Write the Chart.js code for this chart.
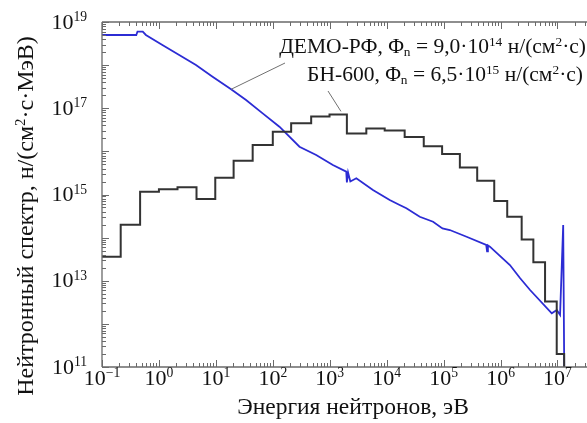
<!DOCTYPE html>
<html lang="ru"><head><meta charset="utf-8">
<script src="https://cdn.jsdelivr.net/npm/chart.js@4/dist/chart.umd.min.js"></script>
<style>
html,body{margin:0;padding:0;background:#fff;overflow:hidden}
canvas{display:block}
#wrap{width:587px;height:423px;position:relative}
#ov{position:absolute;left:0;top:0;width:587px;height:423px;pointer-events:none;color:#111}
#ov .t{position:absolute;white-space:nowrap;line-height:1;font-family:'Liberation Serif'}
#ov .sup{font-size:0.62em;line-height:0;position:relative;top:-0.55em}
#ov .sub{font-size:0.62em;line-height:0;position:relative;top:0.2em}
</style>
</head><body>
<div id="wrap"><canvas id="c" width="587" height="423"></canvas><div id="ov"></div></div>
<script>
// ---- data ----
const xTickExponents = [-1, 0, 1, 2, 3, 4, 5, 6, 7];
const yTickExponents = [11, 13, 15, 17, 19];
const xTitle = 'Энергия нейтронов, эВ';
const yTitle = 'Нейтронный спектр, н/(см<span class="sup">2</span>·с·МэВ)';
const demoName = 'ДЕМО-РФ';
const demoFluxText = ['9,0·10', '14'];
const bnName = 'БН-600';
const bnFluxText = ['6,5·10', '15'];

// ДЕМО-РФ spectrum (energy eV, flux н/(см²·с·МэВ))
const demoEnergy = [0.1, 0.40, 0.42, 0.52, 0.59, 1.15, 2.27, 4.47, 8.75, 18.5, 33.9, 66.4, 130.6, 294, 578, 1135, 1950, 2000, 2100, 2300, 2930, 5740, 11300, 16900, 22200, 38100, 65300, 95500, 128500, 253000, 560000, 580000, 600000, 650000, 1.46e6, 2.21e6, 3.30e6, 7.94e6, 9.73e6, 1.11e7, 1.26e7, 1.33e7];
const demoFlux   = [5.0e18, 5.0e18, 6.0e18, 6.0e18, 5.0e18, 2.93e18, 1.72e18, 1.01e18, 5.4e17, 2.75e17, 1.55e17, 7.6e16, 3.73e16, 1.28e16, 8.24e15, 4.83e15, 3.38e15, 1.9e15, 3.2e15, 2.0e15, 2.38e15, 1.27e15, 7.45e14, 5.71e14, 4.79e14, 3.05e14, 2.34e14, 1.64e14, 1.50e14, 1.05e14, 6.8e13, 4.8e13, 6.6e13, 6.17e13, 2.32e13, 1.14e13, 6.1e12, 1.76e12, 2.10e12, 1.61e12, 1.96e14, 1e10];

// БН-600 group spectrum: bin left edges (eV) and group flux
const bnEdges = [0.1, 0.213, 0.467, 1.0, 2.12, 4.57, 9.76, 20.5, 44.3, 100, 210, 472, 991, 2000, 4390, 9230, 20700, 44800, 94100, 193000, 389000, 775000, 1.31e6, 2.35e6, 3.77e6, 6.05e6, 9.7e6, 1.31e7];
const bnFlux  = [3.6e13, 2.0e14, 1.16e15, 1.32e15, 1.47e15, 7.9e14, 2.45e15, 6.1e15, 1.41e16, 2.86e16, 4.48e16, 6.4e16, 7.2e16, 2.6e16, 3.4e16, 3.05e16, 2.15e16, 1.31e16, 8.7e15, 4.2e15, 2.09e15, 7.1e14, 3.06e14, 9.1e13, 2.7e13, 3.3e12, 2.0e11, 1e10];

const xMin = 0.1, xMax = 3.3e7, yMin = 1e11, yMax = 1e19;

// ---- styles ----
const AXIS_COLOR = '#6a6a6a';

const framePlugin = {
  id: 'frame',
  afterDraw(chart) {
    const ctx = chart.ctx, a = chart.chartArea, xs = chart.scales.x, ys = chart.scales.y;
    ctx.save();
    ctx.strokeStyle = AXIS_COLOR; ctx.lineWidth = 1.3;
    ctx.beginPath();
    ctx.moveTo(a.left, a.top); ctx.lineTo(a.right, a.top);
    ctx.moveTo(a.left, a.top); ctx.lineTo(a.left, a.bottom);
    ctx.moveTo(a.left, a.bottom); ctx.lineTo(a.right, a.bottom);
    ctx.stroke();
    ctx.lineWidth = 1;
    ctx.beginPath();
    for (let e = -1; e <= 7; e++) {
      for (let m = 1; m <= 9; m++) {
        const v = m * Math.pow(10, e);
        if (v < xMin || v > xMax) continue;
        const px = Math.round(xs.getPixelForValue(v)) + 0.5;
        const len = m === 1 ? 7 : 4;
        ctx.moveTo(px, a.bottom); ctx.lineTo(px, a.bottom - len);
        ctx.moveTo(px, a.top); ctx.lineTo(px, a.top + len);
      }
    }
    for (let e = 11; e <= 19; e++) {
      for (let m = 1; m <= 9; m++) {
        const v = m * Math.pow(10, e);
        if (v < yMin || v > yMax) continue;
        const py = Math.round(ys.getPixelForValue(v)) + 0.5;
        const len = m === 1 ? 7 : 4;
        ctx.moveTo(a.left, py); ctx.lineTo(a.left + len, py);
      }
    }
    ctx.stroke();

    // leader lines of the annotations
    ctx.strokeStyle = '#707070'; ctx.lineWidth = 1;
    ctx.beginPath();
    ctx.moveTo(285, 63);
    ctx.lineTo(xs.getPixelForValue(18.5), ys.getPixelForValue(2.75e17));
    ctx.moveTo(328, 91);
    ctx.lineTo(xs.getPixelForValue(1574), ys.getPixelForValue(7.2e16) - 3);
    ctx.stroke();
    ctx.restore();
  }
};

const chart = new Chart(document.getElementById('c'), {
  type: 'line',
  data: {
    datasets: [
      {
        label: bnName,
        data: bnEdges.map((x, i) => ({ x, y: bnFlux[i] })),
        borderColor: '#333333', borderWidth: 2, pointRadius: 0, stepped: 'before', fill: false
      },
      {
        label: demoName,
        data: demoEnergy.map((x, i) => ({ x, y: demoFlux[i] })),
        borderColor: '#2c2cd4', borderWidth: 1.8, pointRadius: 0, tension: 0, fill: false
      }
    ]
  },
  options: {
    responsive: false, animation: false, devicePixelRatio: 1,
    layout: { padding: { left: 102, top: 22, right: 0, bottom: 56 } },
    plugins: { legend: { display: false }, tooltip: { enabled: false } },
    scales: {
      x: { type: 'logarithmic', min: xMin, max: xMax, display: false },
      y: { type: 'logarithmic', min: yMin, max: yMax, display: false }
    }
  },
  plugins: [framePlugin]
});

// ---- text as HTML overlay, positioned from the chart scales ----
const ov = document.getElementById('ov');
function addText(html, x, baseline, align, size) {
  const d = document.createElement('div');
  d.className = 't';
  d.style.font = size + "px 'Liberation Serif'";
  d.style.lineHeight = '1';
  d.innerHTML = html;
  d.style.top = (baseline - 0.8375 * size) + 'px';
  if (align === 'right') { d.style.right = (587 - x) + 'px'; }
  else if (align === 'center') { d.style.left = x + 'px'; d.style.transform = 'translateX(-50%)'; }
  else { d.style.left = x + 'px'; }
  ov.appendChild(d);
  return d;
}
const a = chart.chartArea, xs = chart.scales.x, ys = chart.scales.y;
xTickExponents.forEach(e => {
  addText('10<span class="sup">' + (e < 0 ? '\u2212' + (-e) : e) + '</span>', xs.getPixelForValue(Math.pow(10, e)), a.bottom + 18, 'center', 22);
});
yTickExponents.forEach(e => {
  addText('10<span class="sup">' + e + '</span>', a.left - 15, ys.getPixelForValue(Math.pow(10, e)) + 7, 'right', 22);
});
addText(xTitle, 353, 415, 'center', 23.5);
const yt = addText(yTitle, 25, 216, 'left', 24);
yt.style.top = '216px';
yt.style.transform = 'translate(-50%, -50%) rotate(-90deg)';
addText(demoName + ', Φ<span class="sub">n</span> = ' + demoFluxText[0] + '<span class="sup">' + demoFluxText[1] + '</span> н/(см<span class="sup">2</span>·с)', 586, 54, 'right', 21.5);
addText(bnName + ', Φ<span class="sub">n</span> = ' + bnFluxText[0] + '<span class="sup">' + bnFluxText[1] + '</span> н/(см<span class="sup">2</span>·с)', 583, 82, 'right', 21.5);
</script>
</body></html>
